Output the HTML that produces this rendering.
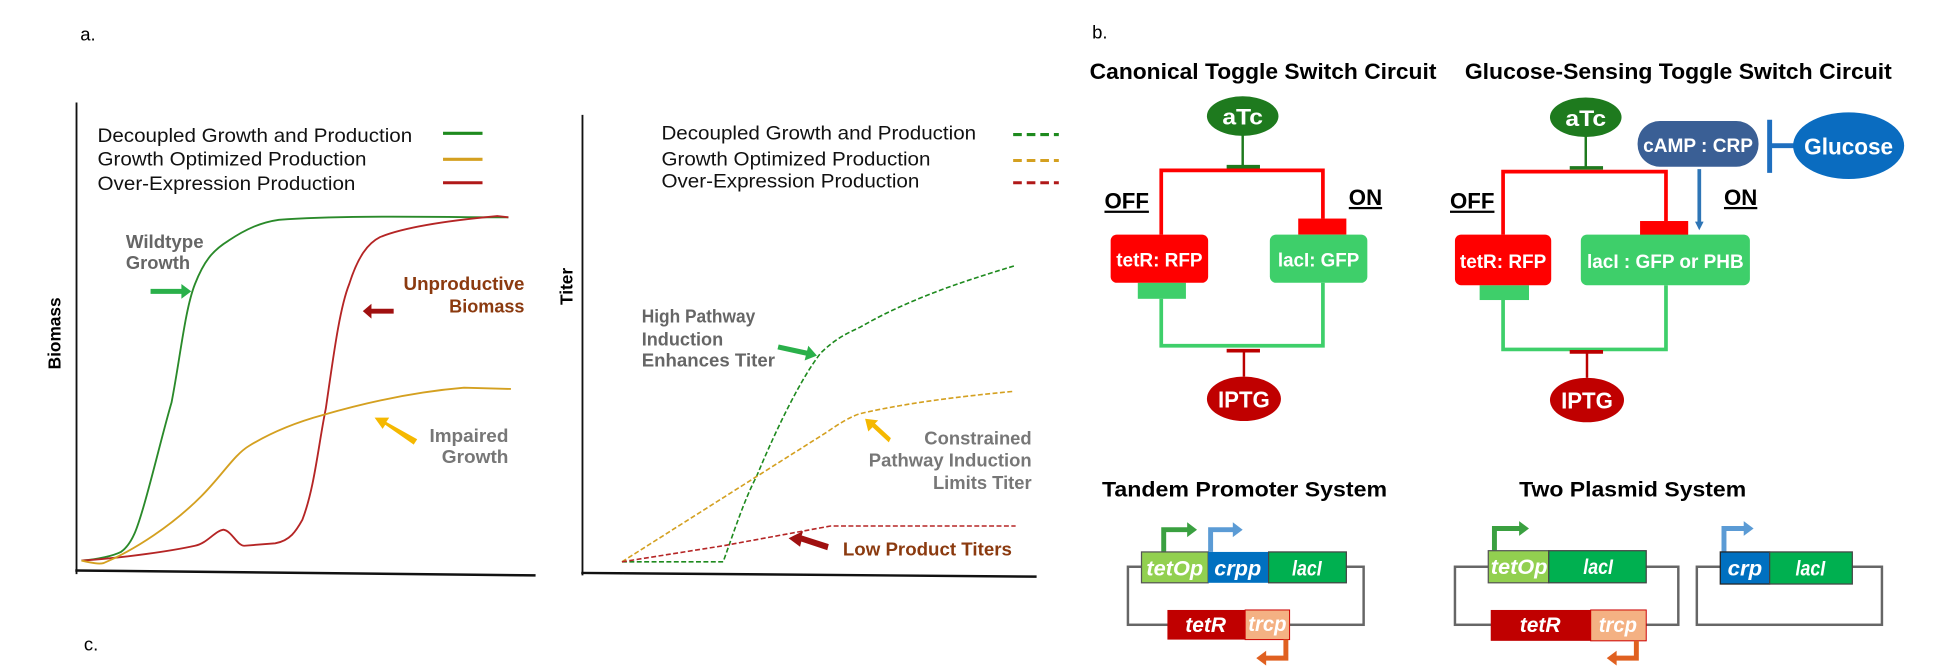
<!DOCTYPE html>
<html><head><meta charset="utf-8"><style>
html,body{margin:0;padding:0;background:#fff;}
svg{display:block;}
text{font-family:"Liberation Sans",Arial,sans-serif;}
.lg{font-size:16px;fill:#111;}
.b{font-weight:bold;}
</style></head><body>
<svg width="1935" height="668" viewBox="0 0 1568 541" preserveAspectRatio="none" xmlns="http://www.w3.org/2000/svg">
<defs>
<marker id="ab" markerWidth="7" markerHeight="7" refX="3.5" refY="3.5" orient="auto" markerUnits="userSpaceOnUse"><path d="M0,0 L7,3.5 L0,7 z" fill="#2e75b6"/></marker>
</defs>
<text x="65" y="33" font-size="15">a.</text>
<text x="68" y="527" font-size="15">c.</text>
<text x="885" y="31" font-size="15">b.</text>

<!-- left chart -->
<line x1="62" y1="83" x2="62" y2="465" stroke="#111" stroke-width="1.5"/>
<line x1="61" y1="462" x2="434" y2="466" stroke="#111" stroke-width="2"/>
<text class="b" font-size="14" transform="translate(49,270) rotate(-90)" text-anchor="middle">Biomass</text>
<text class="lg" x="79" y="115" textLength="255" lengthAdjust="spacingAndGlyphs">Decoupled Growth and Production</text>
<text class="lg" x="79" y="134" textLength="218" lengthAdjust="spacingAndGlyphs">Growth Optimized Production</text>
<text class="lg" x="79" y="154" textLength="209" lengthAdjust="spacingAndGlyphs">Over-Expression Production</text>
<line x1="359" y1="108" x2="391" y2="108" stroke="#1e8a1e" stroke-width="2.5"/>
<line x1="359" y1="129" x2="391" y2="129" stroke="#d4a020" stroke-width="2.5"/>
<line x1="359" y1="148" x2="391" y2="148" stroke="#b01818" stroke-width="2.5"/>
<path d="M66,454 C80,453 92,450 98,447 C108,440 112,425 117,408 C125,380 132,350 139,326 C146,290 150,250 158,230 C165,212 172,203 185,195 C200,185 212,180 226,178 C280,174 360,176 412,176" fill="none" stroke="#2a8a2a" stroke-width="1.5"/>
<path d="M66,454 C100,452 140,446 158,442 C168,440 174,430 181,429 C188,430 192,442 198,442 L223,440 C235,438 240,430 245,421 C255,395 258,360 264,331 C270,290 275,250 283,230 C290,208 298,197 308,192 C330,183 370,178 403,175 L412,176" fill="none" stroke="#b52525" stroke-width="1.5"/>
<path d="M66,454 C75,456 80,457 84,456 C110,445 140,425 163,402 C180,385 190,368 202,361 C220,350 240,342 262,336 C300,325 340,317 376,314 L414,315" fill="none" stroke="#d4a020" stroke-width="1.5"/>
<text class="b" x="102" y="201" font-size="15" fill="#666" textLength="63" lengthAdjust="spacingAndGlyphs">Wildtype</text>
<text class="b" x="102" y="218" font-size="15" fill="#666" textLength="52" lengthAdjust="spacingAndGlyphs">Growth</text>
<path d="M122,234 L147,234 L147,230 L155,236 L147,242 L147,238 L122,238z" fill="#2ab04a"/>
<text class="b" x="425" y="235" font-size="15" fill="#8b3a0f" text-anchor="end" textLength="98" lengthAdjust="spacingAndGlyphs">Unproductive</text>
<text class="b" x="425" y="253" font-size="15" fill="#8b3a0f" text-anchor="end" textLength="61" lengthAdjust="spacingAndGlyphs">Biomass</text>
<path d="M319,250 L301,250 L301,246 L294,252 L301,258 L301,254 L319,254z" fill="#a01010"/>
<text class="b" x="412" y="358" font-size="15" fill="#777" text-anchor="end" textLength="64" lengthAdjust="spacingAndGlyphs">Impaired</text>
<text class="b" x="412" y="375" font-size="15" fill="#777" text-anchor="end" textLength="54" lengthAdjust="spacingAndGlyphs">Growth</text>
<path d="M335,359 L312,343 L310,346 L305,339 L314,339 L312,342 L337,356z" fill="#f5b800" stroke="#f5b800" stroke-width="1.5"/>

<!-- right chart -->
<line x1="472" y1="93" x2="472" y2="466" stroke="#111" stroke-width="1.5"/>
<line x1="471" y1="464" x2="840" y2="467" stroke="#111" stroke-width="2"/>
<text class="b" font-size="14" transform="translate(464,232) rotate(-90)" text-anchor="middle">Titer</text>
<text class="lg" x="536" y="113" textLength="255" lengthAdjust="spacingAndGlyphs">Decoupled Growth and Production</text>
<text class="lg" x="536" y="134" textLength="218" lengthAdjust="spacingAndGlyphs">Growth Optimized Production</text>
<text class="lg" x="536" y="152" textLength="209" lengthAdjust="spacingAndGlyphs">Over-Expression Production</text>
<line x1="821" y1="109" x2="858" y2="109" stroke="#1e8a1e" stroke-width="2.5" stroke-dasharray="7,4"/>
<line x1="821" y1="130" x2="858" y2="130" stroke="#d4a020" stroke-width="2.5" stroke-dasharray="7,4"/>
<line x1="821" y1="148" x2="858" y2="148" stroke="#b01818" stroke-width="2.5" stroke-dasharray="7,4"/>
<path d="M504,455 L586,455 C595,430 603,405 613,386 C630,345 650,305 665,286 C676,275 686,270 697,265 C740,240 790,225 823,215" fill="none" stroke="#1e8a1e" stroke-width="1.3" stroke-dasharray="4,2"/>
<path d="M504,455 L613,386 L670,350 C680,343 690,337 697,335 C740,325 790,320 821,317" fill="none" stroke="#d4a020" stroke-width="1.3" stroke-dasharray="4,2"/>
<path d="M504,455 L586,442 L673,426 L823,426" fill="none" stroke="#b52525" stroke-width="1.3" stroke-dasharray="4,2"/>
<text class="b" x="520" y="261" font-size="15" fill="#666" textLength="92" lengthAdjust="spacingAndGlyphs">High Pathway</text>
<text class="b" x="520" y="280" font-size="15" fill="#666" textLength="66" lengthAdjust="spacingAndGlyphs">Induction</text>
<text class="b" x="520" y="297" font-size="15" fill="#666" textLength="108" lengthAdjust="spacingAndGlyphs">Enhances Titer</text>
<path d="M631,279 L654,284 L655,280 L662,288 L652,292 L653,288 L630,283z" fill="#2ab04a"/>
<text class="b" x="836" y="360" font-size="15" fill="#777" text-anchor="end" textLength="87" lengthAdjust="spacingAndGlyphs">Constrained</text>
<text class="b" x="836" y="378" font-size="15" fill="#777" text-anchor="end" textLength="132" lengthAdjust="spacingAndGlyphs">Pathway Induction</text>
<text class="b" x="836" y="396" font-size="15" fill="#777" text-anchor="end" textLength="80" lengthAdjust="spacingAndGlyphs">Limits Titer</text>
<path d="M720,357 L707,345 L704,348 L702,340 L710,341 L708,343 L721,355z" fill="#f5b800" stroke="#f5b800" stroke-width="1.5"/>
<text class="b" x="683" y="450" font-size="15" fill="#8b3a0f" textLength="137" lengthAdjust="spacingAndGlyphs">Low Product Titers</text>
<path d="M670,445 L649,438 L648,442 L640,436 L650,431 L649,434 L671,441z" fill="#a01010" stroke="#a01010" stroke-width="1"/>

<!-- b: toggle circuits -->
<text class="b" x="883" y="64" font-size="18" textLength="281" lengthAdjust="spacingAndGlyphs">Canonical Toggle Switch Circuit</text>
<text class="b" x="1187" y="64" font-size="18" textLength="346" lengthAdjust="spacingAndGlyphs">Glucose-Sensing Toggle Switch Circuit</text>

<g>
<line x1="1007" y1="105" x2="1007" y2="135" stroke="#1e7a1e" stroke-width="2"/>
<line x1="994" y1="135" x2="1021" y2="135" stroke="#1e7a1e" stroke-width="3"/>
<ellipse cx="1007" cy="94" rx="29" ry="16" fill="#1e7a1e"/>
<text class="b" x="1007" y="101" font-size="18" fill="#fff" text-anchor="middle" textLength="33" lengthAdjust="spacingAndGlyphs">aTc</text>
<path d="M941,190 L941,138 L1072,138 L1072,177" fill="none" stroke="#f00" stroke-width="3"/>
<rect x="1052" y="177" width="39" height="13" fill="#f00"/>
<path d="M941,242 L941,280 L1072,280 L1072,229" fill="none" stroke="#3ecf6a" stroke-width="3"/>
<rect x="922" y="229" width="39" height="13" fill="#3ecf6a"/>
<rect x="900" y="190" width="79" height="39" rx="5" fill="#f00"/>
<text class="b" x="939.5" y="216" font-size="16" fill="#fff" text-anchor="middle" textLength="70" lengthAdjust="spacingAndGlyphs">tetR: RFP</text>
<rect x="1029" y="190" width="79" height="39" rx="5" fill="#3ecf6a"/>
<text class="b" x="1068.5" y="216" font-size="16" fill="#fff" text-anchor="middle" textLength="66" lengthAdjust="spacingAndGlyphs">lacI: GFP</text>
<line x1="994" y1="284" x2="1021" y2="284" stroke="#b00" stroke-width="3"/>
<line x1="1008" y1="284" x2="1008" y2="305" stroke="#b00" stroke-width="2"/>
<ellipse cx="1008" cy="323" rx="30" ry="18" fill="#c00000"/>
<text class="b" x="1008" y="330" font-size="19" fill="#fff" text-anchor="middle" textLength="42" lengthAdjust="spacingAndGlyphs">IPTG</text>
<text class="b" x="895" y="169" font-size="18" text-decoration="underline" textLength="36" lengthAdjust="spacingAndGlyphs">OFF</text>
<text class="b" x="1093" y="166" font-size="18" text-decoration="underline" textLength="27" lengthAdjust="spacingAndGlyphs">ON</text>
</g>

<g>
<line x1="1285" y1="106" x2="1285" y2="136" stroke="#1e7a1e" stroke-width="2"/>
<line x1="1272" y1="136" x2="1299" y2="136" stroke="#1e7a1e" stroke-width="3"/>
<ellipse cx="1285" cy="95" rx="29" ry="16" fill="#1e7a1e"/>
<text class="b" x="1285" y="102" font-size="18" fill="#fff" text-anchor="middle" textLength="33" lengthAdjust="spacingAndGlyphs">aTc</text>
<path d="M1218,190 L1218,139 L1350,139 L1350,179" fill="none" stroke="#f00" stroke-width="3"/>
<rect x="1329" y="179" width="39" height="12" fill="#f00"/>
<path d="M1218,243 L1218,283 L1350,283 L1350,231" fill="none" stroke="#3ecf6a" stroke-width="3"/>
<rect x="1199" y="231" width="40" height="12" fill="#3ecf6a"/>
<rect x="1179" y="190" width="78" height="41" rx="5" fill="#f00"/>
<text class="b" x="1218" y="217" font-size="16" fill="#fff" text-anchor="middle" textLength="70" lengthAdjust="spacingAndGlyphs">tetR: RFP</text>
<rect x="1281" y="190" width="137" height="41" rx="5" fill="#3ecf6a"/>
<text class="b" x="1349.5" y="217" font-size="16" fill="#fff" text-anchor="middle" textLength="127" lengthAdjust="spacingAndGlyphs">lacI : GFP or PHB</text>
<line x1="1272" y1="285" x2="1299" y2="285" stroke="#b00" stroke-width="3"/>
<line x1="1286" y1="285" x2="1286" y2="306" stroke="#b00" stroke-width="2"/>
<ellipse cx="1286" cy="324" rx="30" ry="18" fill="#c00000"/>
<text class="b" x="1286" y="331" font-size="19" fill="#fff" text-anchor="middle" textLength="42" lengthAdjust="spacingAndGlyphs">IPTG</text>
<text class="b" x="1175" y="169" font-size="18" text-decoration="underline" textLength="36" lengthAdjust="spacingAndGlyphs">OFF</text>
<text class="b" x="1397" y="166" font-size="18" text-decoration="underline" textLength="27" lengthAdjust="spacingAndGlyphs">ON</text>
<rect x="1327" y="98" width="98" height="37" rx="18" fill="#3a5f95"/>
<text class="b" x="1376" y="123" font-size="16" fill="#fff" text-anchor="middle" textLength="89" lengthAdjust="spacingAndGlyphs">cAMP : CRP</text>
<line x1="1434" y1="97" x2="1434" y2="140" stroke="#1f6fbf" stroke-width="4"/>
<line x1="1434" y1="118" x2="1460" y2="118" stroke="#1f6fbf" stroke-width="4"/>
<ellipse cx="1498" cy="118" rx="45" ry="27" fill="#0a6cc0"/>
<text class="b" x="1498" y="125" font-size="19" fill="#fff" text-anchor="middle" textLength="72" lengthAdjust="spacingAndGlyphs">Glucose</text>
<line x1="1377" y1="137" x2="1377" y2="183" stroke="#2e75b6" stroke-width="3" marker-end="url(#ab)"/>
</g>

<!-- bottom plasmids -->
<text class="b" x="893" y="402" font-size="17" textLength="231" lengthAdjust="spacingAndGlyphs">Tandem Promoter System</text>
<text class="b" x="1231" y="402" font-size="17" textLength="184" lengthAdjust="spacingAndGlyphs">Two Plasmid System</text>

<g font-style="italic" font-weight="bold" font-size="17" fill="#fff" text-anchor="middle">
<rect x="914" y="459" width="191" height="47" fill="none" stroke="#666" stroke-width="2"/>
<path d="M943,447 L943,429 L963,429" fill="none" stroke="#3aa040" stroke-width="4"/><path d="M962,423 L970,429 L962,435z" fill="#3aa040"/>
<path d="M981,447 L981,429 L1000,429" fill="none" stroke="#5b9bd5" stroke-width="4"/><path d="M999,423 L1007,429 L999,435z" fill="#5b9bd5"/>
<rect x="925" y="447" width="54" height="25" fill="#92d050" stroke="#555"/>
<text x="952" y="466" textLength="46" lengthAdjust="spacingAndGlyphs">tetOp</text>
<rect x="979" y="447" width="49" height="25" fill="#0070c0"/>
<text x="1003" y="466" textLength="38" lengthAdjust="spacingAndGlyphs">crpp</text>
<rect x="1028" y="447" width="63" height="25" fill="#00b050" stroke="#444"/>
<text x="1059" y="466" textLength="24" lengthAdjust="spacingAndGlyphs">lacI</text>
<rect x="946" y="494" width="63" height="24" fill="#c00000"/>
<text x="977" y="512" textLength="33" lengthAdjust="spacingAndGlyphs">tetR</text>
<rect x="1009" y="494" width="36" height="24" fill="#f4b183" stroke="#c00" stroke-width="0.8"/>
<text x="1027" y="511" textLength="31" lengthAdjust="spacingAndGlyphs">trcp</text>
<path d="M1042,518 L1042,533 L1025,533" fill="none" stroke="#e06020" stroke-width="4"/><path d="M1026,527 L1018,533 L1026,539z" fill="#e06020"/>

<rect x="1179" y="459" width="181" height="47" fill="none" stroke="#666" stroke-width="2"/>
<path d="M1211,446 L1211,428 L1232,428" fill="none" stroke="#3aa040" stroke-width="4"/><path d="M1231,422 L1239,428 L1231,434z" fill="#3aa040"/>
<rect x="1206" y="446" width="49" height="26" fill="#92d050" stroke="#555"/>
<text x="1231" y="465" textLength="46" lengthAdjust="spacingAndGlyphs">tetOp</text>
<rect x="1255" y="446" width="79" height="26" fill="#00b050" stroke="#444"/>
<text x="1295" y="465" textLength="24" lengthAdjust="spacingAndGlyphs">lacI</text>
<rect x="1208" y="494" width="81" height="25" fill="#c00000"/>
<text x="1248" y="512" textLength="33" lengthAdjust="spacingAndGlyphs">tetR</text>
<rect x="1289" y="494" width="45" height="25" fill="#f4b183" stroke="#c00" stroke-width="0.8"/>
<text x="1311" y="512" textLength="31" lengthAdjust="spacingAndGlyphs">trcp</text>
<path d="M1326,519 L1326,533 L1309,533" fill="none" stroke="#e06020" stroke-width="4"/><path d="M1310,527 L1302,533 L1310,539z" fill="#e06020"/>

<rect x="1375" y="459" width="150" height="47" fill="none" stroke="#666" stroke-width="2"/>
<path d="M1397,447 L1397,428 L1414,428" fill="none" stroke="#5b9bd5" stroke-width="4"/><path d="M1413,422 L1421,428 L1413,434z" fill="#5b9bd5"/>
<rect x="1394" y="447" width="40" height="26" fill="#0070c0" stroke="#222"/>
<text x="1414" y="466" textLength="28" lengthAdjust="spacingAndGlyphs">crp</text>
<rect x="1434" y="447" width="67" height="26" fill="#00b050" stroke="#444"/>
<text x="1467" y="466" textLength="24" lengthAdjust="spacingAndGlyphs">lacI</text>
</g>
</svg>
</body></html>
